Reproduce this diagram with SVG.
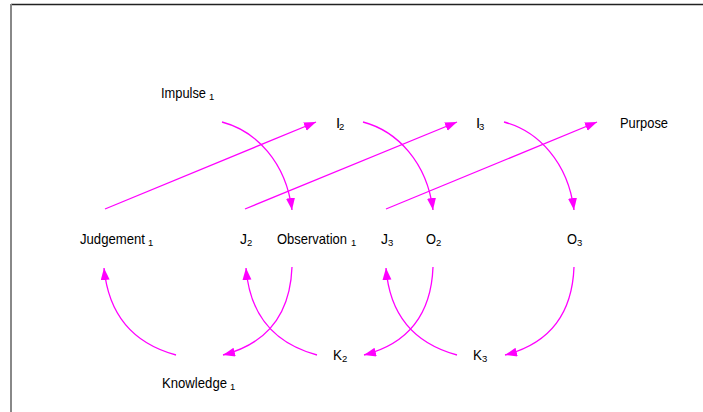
<svg xmlns="http://www.w3.org/2000/svg" width="703" height="412" viewBox="0 0 703 412">
<style>
text{font-family:"Liberation Sans",Arial,sans-serif;fill:#000;font-size:15px}
.s{font-size:9.5px}
.c{fill:none;stroke:#FF00FF;stroke-width:1.3;marker-end:url(#ah)}
</style>
<defs>
<marker id="ah" markerUnits="userSpaceOnUse" markerWidth="13" markerHeight="10" refX="12" refY="4.5" orient="auto">
<path d="M0,0 L12,4.5 L0,9 z" fill="#FF00FF"/>
</marker>
</defs>
<rect width="703" height="412" fill="#fff"/>
<g id="frame">
<line x1="11" y1="4.5" x2="703" y2="4.5" stroke="#222" stroke-width="1.5"/>
<line x1="11" y1="4" x2="11" y2="412" stroke="#888" stroke-width="2"/>
</g>
<g id="connectors">
<path class="c" d="M105,209 L316,122"/>
<path class="c" d="M245,209 L457,122"/>
<path class="c" d="M386,209 L597,122"/>
<path class="c" d="M222,122 C256,131 286,162 292,210"/>
<path class="c" d="M363,122 C397,131 427,162 433,210"/>
<path class="c" d="M504,122 C538,131 568,162 574,210"/>
<path class="c" d="M292,267 C290,320 262,345 223,355"/>
<path class="c" d="M433,267 C431,320 403,345 364,355"/>
<path class="c" d="M574,267 C572,320 544,345 505,355"/>
<path class="c" d="M176,355 C139,345 109,320 104,268"/>
<path class="c" d="M317,355 C280,345 250,320 246,268"/>
<path class="c" d="M457,355 C420,345 390,320 386,268"/>
</g>
<g id="impulse1"><text x="161" y="98"><tspan textLength="45" lengthAdjust="spacingAndGlyphs">Impulse</tspan><tspan class="s" x="209" y="100">1</tspan></text></g>
<g id="i2"><text x="336" y="128">I<tspan class="s" x="339" y="129.5">2</tspan></text></g>
<g id="i3"><text x="476" y="128">I<tspan class="s" x="479" y="129.5">3</tspan></text></g>
<g id="purpose"><text x="620" y="128" textLength="48" lengthAdjust="spacingAndGlyphs">Purpose</text></g>
<g id="judgement1"><text x="80" y="244"><tspan textLength="65" lengthAdjust="spacingAndGlyphs">Judgement</tspan><tspan class="s" x="148" y="246">1</tspan></text></g>
<g id="j2"><text x="240" y="244"><tspan textLength="7" lengthAdjust="spacingAndGlyphs">J</tspan><tspan class="s" x="247" y="246">2</tspan></text></g>
<g id="observation1"><text x="277" y="244"><tspan textLength="70" lengthAdjust="spacingAndGlyphs">Observation</tspan><tspan class="s" x="351" y="246">1</tspan></text></g>
<g id="j3"><text x="381" y="244"><tspan textLength="7" lengthAdjust="spacingAndGlyphs">J</tspan><tspan class="s" x="388" y="246">3</tspan></text></g>
<g id="o2"><text x="426" y="244"><tspan textLength="10" lengthAdjust="spacingAndGlyphs">O</tspan><tspan class="s" x="436" y="246">2</tspan></text></g>
<g id="o3"><text x="567" y="244"><tspan textLength="10" lengthAdjust="spacingAndGlyphs">O</tspan><tspan class="s" x="577" y="246">3</tspan></text></g>
<g id="k2"><text x="333" y="360"><tspan textLength="9" lengthAdjust="spacingAndGlyphs">K</tspan><tspan class="s" x="342" y="362">2</tspan></text></g>
<g id="k3"><text x="473" y="360"><tspan textLength="9" lengthAdjust="spacingAndGlyphs">K</tspan><tspan class="s" x="482" y="362">3</tspan></text></g>
<g id="knowledge1"><text x="162" y="388"><tspan textLength="65" lengthAdjust="spacingAndGlyphs">Knowledge</tspan><tspan class="s" x="230" y="390">1</tspan></text></g>
</svg>
